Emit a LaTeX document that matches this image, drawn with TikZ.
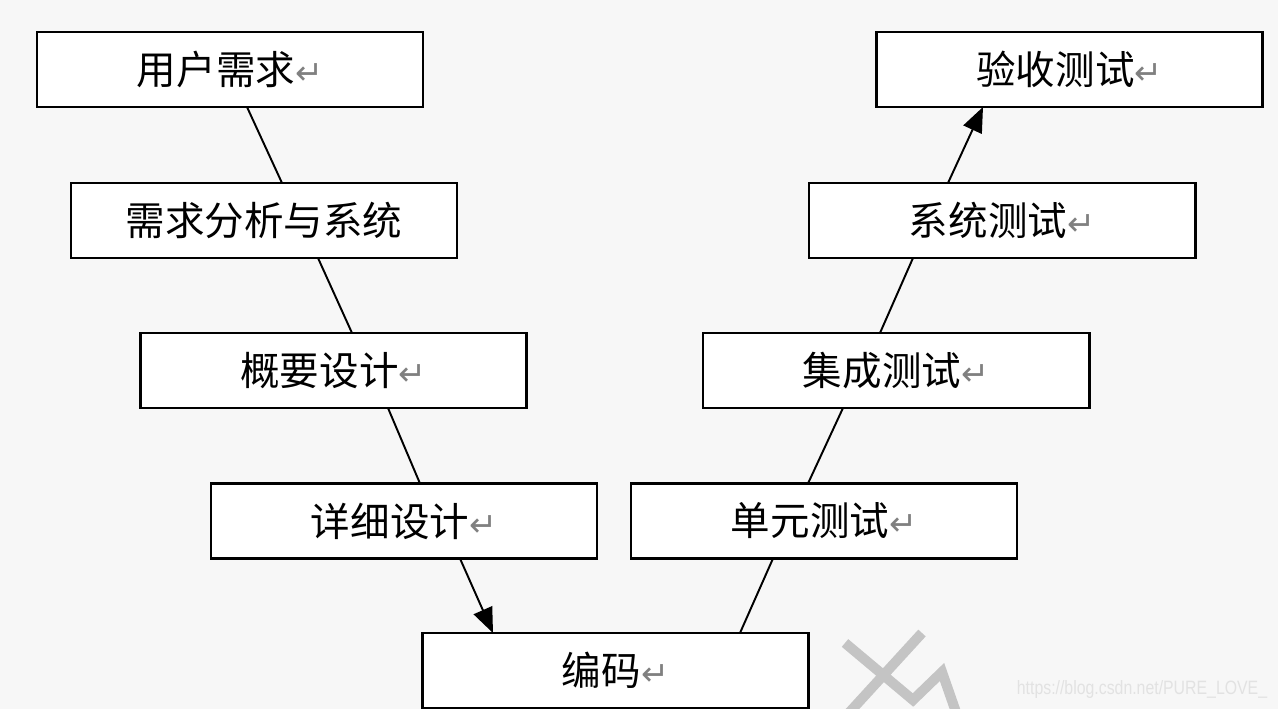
\documentclass[tikz,border=0pt]{standalone}
\usepackage{fontspec}
\setmainfont{Noto Sans CJK SC}
\newfontfamily\symfont{DejaVu Sans}
\newfontfamily\wmfont{Liberation Sans}
\usetikzlibrary{arrows.meta,calc}
\definecolor{bgc}{HTML}{F7F7F7}
\definecolor{wmgray}{HTML}{C4C4C4}
\definecolor{urlgray}{HTML}{E2E2E2}
\newcommand{\ret}{{\symfont\fontsize{19}{19}\selectfont\color{gray}↵}}
\tikzset{
  vbox/.style={draw=black, line width=1.7pt, fill=white, minimum width=7.72cm, minimum height=1.5cm,
    inner sep=0pt, outer sep=0pt, font=\fontsize{22.5}{26}\selectfont},
  link/.style={line width=1.1pt, draw=black},
  arr/.style={link, -{Triangle[length=0.5cm,width=0.4cm]}}
}
\begin{document}
\begin{tikzpicture}
\useasboundingbox (0,0) rectangle (25.56,-14.18);
\fill[bgc] (0,0) rectangle (25.56,-14.18);
\begin{scope}
\clip (0,0) rectangle (25.56,-14.18);
\node[vbox] (b1) at (4.60,-1.39) {用户需求\ret};
\node[vbox] (b2) at (5.28,-4.41) {需求分析与系统};
\node[vbox] (b3) at (6.67,-7.41) {概要设计\ret};
\node[vbox] (b4) at (8.08,-10.42) {详细设计\ret};
\node[vbox] (b5) at (12.31,-13.41) {编码\ret};
\node[vbox] (b6) at (16.48,-10.42) {单元测试\ret};
\node[vbox] (b7) at (17.92,-7.41) {集成测试\ret};
\node[vbox] (b8) at (20.04,-4.41) {系统测试\ret};
\node[vbox] (b9) at (21.39,-1.39) {验收测试\ret};

\draw[link] ([xshift=0.34cm]b1.south) -- ([xshift=0.36cm]b2.north);
\draw[link] ([xshift=1.08cm]b2.south) -- ([xshift=0.37cm]b3.north);
\draw[link] ([xshift=1.09cm]b3.south) -- ([xshift=0.32cm]b4.north);
\draw[arr]  ([xshift=1.12cm]b4.south) -- ([xshift=-2.45cm]b5.north);
\draw[link] ([xshift=2.49cm]b5.north) -- ([xshift=-1.02cm]b6.south);
\draw[link] ([xshift=-0.32cm]b6.north) -- ([xshift=-1.06cm]b7.south);
\draw[link] ([xshift=-0.32cm]b7.north) -- ([xshift=-1.78cm]b8.south);
\draw[arr]  ([xshift=-1.08cm]b8.north) -- ([xshift=-1.73cm]b9.south);

% watermark
\draw[wmgray, line width=5.7pt] (16.90,-12.86) -- (18.26,-14.0) -- (18.84,-13.44) -- (19.14,-14.3);
\draw[wmgray, line width=5.7pt] (18.44,-12.66) -- (16.94,-14.3);
\node[urlgray, font=\wmfont\fontsize{11}{11}\selectfont, xscale=0.82, inner sep=0pt] (wm) at (22.84,-13.80) {https://blog.csdn.net/PURE\_LOVE\_};
\end{scope}
\end{tikzpicture}
\end{document}
